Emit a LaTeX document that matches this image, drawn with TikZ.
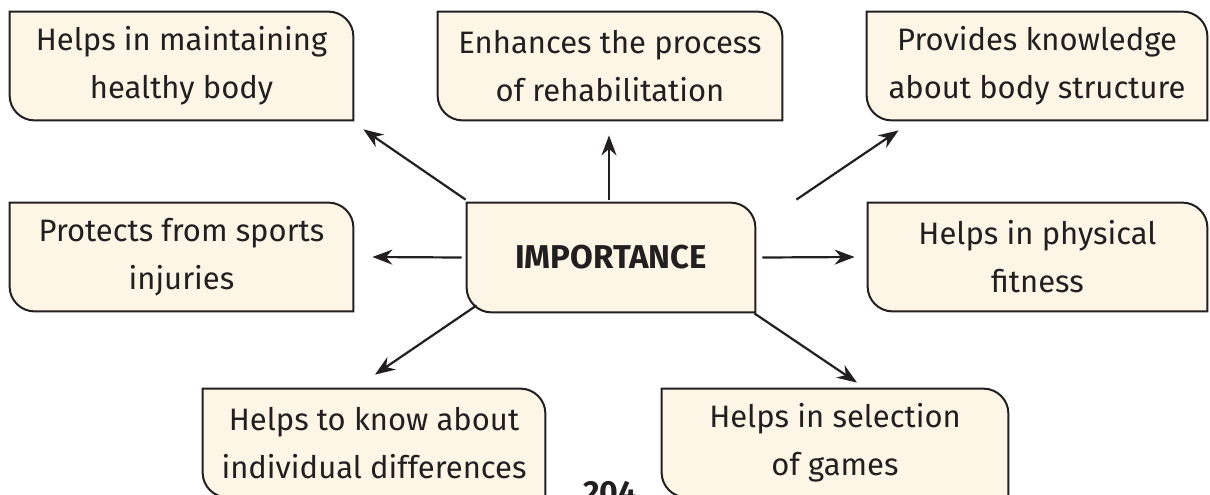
\documentclass[tikz,border=0pt]{standalone}
\usepackage{fontspec}
\setmainfont{Fira Sans}
\usetikzlibrary{arrows.meta,backgrounds}

\definecolor{boxfill}{HTML}{FDF6E7}
\definecolor{inkline}{HTML}{231F20}

% outline with two rounded corners (top right, bottom left)
\newcommand\leafoutline[1]{%
  \filldraw[leafline] (#1.north west) -- ([xshift=-12.5pt]#1.north east)
    arc[start angle=90,end angle=0,radius=12.5pt] -- (#1.south east)
    -- ([xshift=12.5pt]#1.south west)
    arc[start angle=270,end angle=180,radius=12.5pt] -- cycle;}

\begin{document}
\begin{tikzpicture}[x=0.5pt,y=0.5pt,
    leaf/.style={minimum width=#1,minimum height=54pt,inner sep=0pt,
      align=center,text=inkline,font=\fontsize{15.5}{24}\selectfont},
    leafline/.style={fill=boxfill,draw=inkline,line width=1pt},
    link/.style={draw=inkline,line width=1.1pt,-{Stealth[length=10pt,width=7.5pt]}}]
  \useasboundingbox (0,0) rectangle (1210,-494);

  \node[leaf=171.5pt] (health) at (181.5,-66) {Helps in maintaining\\healthy body};
  \node[leaf=172pt] (rehab) at (610,-66) {Enhances the process\\of rehabilitation};
  \node[leaf=170pt] (structure) at (1037,-66) {Provides knowledge\\about body structure};
  \node[leaf=171.5pt] (injury) at (181.5,-257) {Protects from sports\\injuries};
  \node[leaf=144pt,minimum height=54.5pt,
    font=\bfseries\fontsize{16.5}{24}\selectfont] (imp) at (611,-257.5) {IMPORTANCE};
  \node[leaf=169.5pt] (fitness) at (1037.5,-257) {Helps in physical\\fitness};
  \node[leaf=171pt] (differ) at (374,-443) {Helps to know about\\individual differences};
  \node[leaf=173pt] (games) at (835,-443) {Helps in selection\\of games};
  \node[anchor=north,text=inkline,font=\bfseries\fontsize{16}{16}\selectfont]
    (page) at (610,-474) {204};

  \begin{pgfonlayer}{background}
    \foreach \n in {health,rehab,structure,injury,imp,fitness,differ,games}
      {\leafoutline{\n}}
  \end{pgfonlayer}

  \draw[link] ([shift={(-0.5pt,1.5pt)}]imp.north west) -- ([shift={(5pt,-4.5pt)}]health.south east);
  \draw[link] ([shift={(-1pt,1.5pt)}]imp.north) -- ([shift={(-0.5pt,-7.5pt)}]rehab.south);
  \draw[link] ([shift={(20.5pt,1.5pt)}]imp.north east) -- ([shift={(16pt,-5pt)}]structure.south west);
  \draw[link] ([xshift=-2.5pt]imp.west) -- ([xshift=9.5pt]injury.east);
  \draw[link] ([xshift=3.5pt]imp.east) -- ([xshift=-6.5pt]fitness.west);
  \draw[link] ([shift={(5pt,3.5pt)}]imp.south west) -- ([shift={(0.5pt,7pt)}]differ.north);
  \draw[link] ([shift={(-0.5pt,-0.5pt)}]imp.south east) -- ([shift={(11pt,3pt)}]games.north);
\end{tikzpicture}
\end{document}
